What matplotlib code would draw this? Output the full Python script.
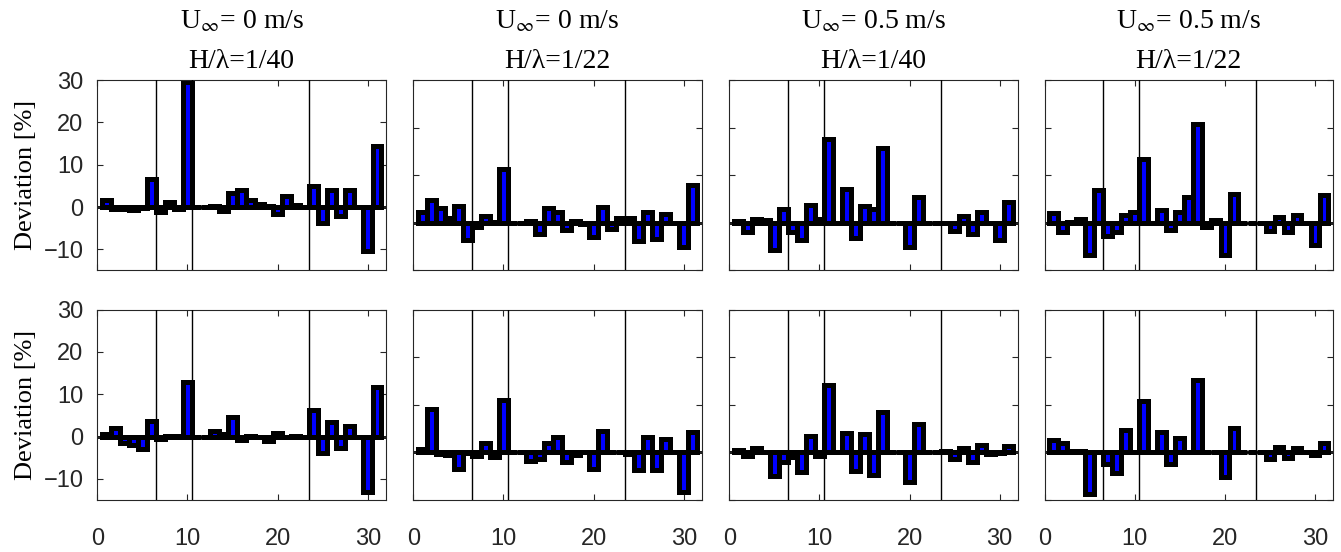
import matplotlib
matplotlib.use('Agg')
import matplotlib.pyplot as plt
import numpy as np

# tick labels in sans, titles / axis labels in serif
plt.rcParams['font.family'] = 'Liberation Sans'
plt.rcParams['mathtext.fontset'] = 'stix'

# probe number along the flume
probe = np.arange(1, 32)

# deviation [%] of each probe, top row
top_u0_h40 = [1.7, -0.5, -0.5, -0.8, -0.3, 6.5, -1.2, 1.1, -0.4, 29.6, 0.1, 0, 0.2, -0.9, 3.3, 4.1,
              1.7, 0.6, 0.3, -1.6, 2.6, 0.5, 0, 5.0, -3.8, 3.9, -2.1, 3.9, 0, -10.5, 14.5]
top_u0_h22 = [2.2, 4.8, 3.2, 1.0, 3.6, -3.7, -0.8, 1.5, 0.2, 11.4, 0, 0, 0.3, -2.3, 3.2, 2.2,
              -1.5, 0.3, -0.2, -2.9, 3.4, -1.3, 1.0, 1.0, -3.8, 2.3, -3.4, 1.8, 0, -5.0, 8.0]
top_u05_h40 = [0.4, -2.0, 0.9, 0.5, -5.6, 3.0, -2.0, -3.5, 3.7, 0.8, 17.7, 0, 7.1, -3.1, 3.6, 3.0,
               15.7, 0, 0, -5.0, 5.5, 0, 0, 0, -1.7, 1.5, -2.3, 2.3, 0, -3.5, 4.4]
top_u05_h22 = [2.0, -2.0, 0.1, 0.9, -6.8, 6.8, -2.7, -1.9, 1.6, 2.2, 13.4, 0, 2.7, -1.5, 2.2, 5.5,
               20.7, -0.9, 0.6, -6.7, 6.0, 0, 0, 0, -1.7, 1.3, -1.9, 1.7, 0, -4.7, 5.9]

# deviation [%] of each probe, bottom row
bot_u0_h40 = [0.6, 2.1, -1.5, -2.0, -2.9, 3.6, -0.5, 0.1, 0.1, 12.8, 0, 0, 1.2, 0.6, 4.6, -0.8,
              0.2, -0.2, -1.1, 0.8, 0, 0.2, 0, 6.3, -3.9, 3.4, -2.7, 2.4, 0, -13.2, 11.6]
bot_u0_h22 = [0.7, 9.2, -0.3, -0.6, -3.4, -0.2, -0.8, 2.0, -1.0, 11.0, 0, 0, -1.8, -1.4, 2.0, 3.2,
              -2.0, -0.6, 0.1, -3.5, 4.5, 0, 0, -0.3, -3.8, 3.2, -3.8, 2.9, 0, -8.3, 4.3]
bot_u05_h40 = [0.4, -0.8, 1.0, 0, -5.0, -2.1, -1.0, -4.2, 3.4, -0.8, 14.2, 0, 4.0, -4.0, 3.8, -4.7,
               8.5, 0, 0, -6.2, 5.9, 0, 0, 0.2, -1.4, 0.9, -2.0, 1.5, -0.4, -0.2, 1.4]
bot_u05_h22 = [2.7, 2.0, 0.3, 0.2, -8.7, 0, -2.5, -4.4, 4.7, 0, 10.7, 0, 4.3, -2.4, 3.1, 0,
               15.3, 0, 0, -5.2, 5.1, 0, 0.1, 0, -1.3, 1.2, -1.2, 1.0, 0, -0.6, 2.0]

titles = [r'U$_\infty$= 0 m/s' + '\nH/λ=1/40',
          r'U$_\infty$= 0 m/s' + '\nH/λ=1/22',
          r'U$_\infty$= 0.5 m/s' + '\nH/λ=1/40',
          r'U$_\infty$= 0.5 m/s' + '\nH/λ=1/22']

# section boundaries along the probe array
section_edges = [6.5, 10.5, 23.5]

rows = [[top_u0_h40, top_u0_h22, top_u05_h40, top_u05_h22],
        [bot_u0_h40, bot_u0_h22, bot_u05_h40, bot_u05_h22]]

fig = plt.figure(figsize=(13.41, 5.52), dpi=100)

lefts = [0.0726, 0.3082, 0.5438, 0.7789]
bottoms = [0.510, 0.0942]
w, h = 0.2151, 0.345
dark = '#262626'

for r, row in enumerate(rows):
    for c, dev in enumerate(row):
        ax = fig.add_axes([lefts[c], bottoms[r], w, h])
        ax.bar(probe, dev, width=0.95, color='b', edgecolor='k', linewidth=3.6, zorder=2)
        ax.axhline(0, color='k', lw=2, zorder=1)
        for xe in section_edges:
            ax.axvline(xe, color='k', lw=1, zorder=3)

        ax.set_xlim(0, 32)
        ax.set_xticks([0, 10, 20, 30])
        ax.set_yticks([-10, 0, 10, 20, 30])
        if c == 0:
            ax.set_ylim(-15, 30)
            ax.set_ylabel('Deviation [%]', family='Liberation Serif', fontsize=19)
            ax.yaxis.set_label_coords(-0.21, 0.5)
        else:
            ax.set_ylim(-10, 30)
            ax.set_yticklabels([])
        if r == 0:
            ax.set_xticklabels([])
            ax.set_title(titles[c], family='Liberation Serif', fontsize=20, pad=9,
                         linespacing=1.75)

        ax.tick_params(direction='in', top=True, right=True, length=4, width=0.8,
                       colors=dark, labelsize=17)
        ax.tick_params(axis='x', pad=20)
        ax.tick_params(axis='y', pad=10)
        for sp in ax.spines.values():
            sp.set_color(dark)
            sp.set_linewidth(0.8)

fig.savefig('out.png', dpi=100)
